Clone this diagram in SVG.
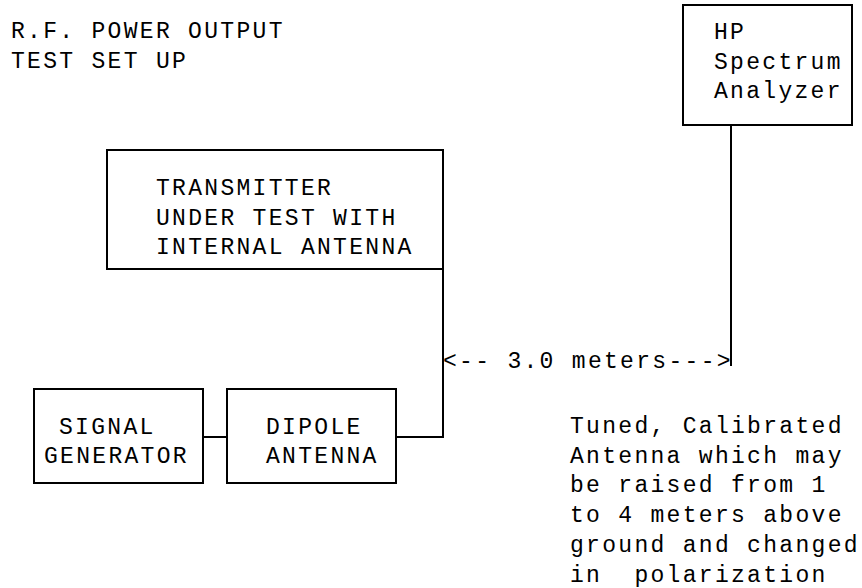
<svg xmlns="http://www.w3.org/2000/svg" width="862" height="588" viewBox="0 0 862 588">
<style>
text{font-family:"Liberation Mono","Courier New",monospace;font-size:23px;letter-spacing:2.3px;fill:#000}
.box{fill:#fff;stroke:#000;stroke-width:2}
.wire{fill:none;stroke:#000;stroke-width:2}
</style>
<rect width="862" height="588" fill="#fff"/>
<g id="title">
<text x="11" y="38">R.F. POWER OUTPUT</text>
<text x="11" y="68">TEST SET UP</text>
</g>
<g id="connectors">
<polyline class="wire" points="443,269 443,437 396,437"/>
<line class="wire" x1="203" y1="437" x2="227" y2="437"/>
<line class="wire" x1="731" y1="125" x2="731" y2="366"/>
</g>
<g id="hp-analyzer">
<rect class="box" x="683" y="5" width="169" height="120"/>
<text x="714" y="39">HP</text>
<text x="714" y="69">Spectrum</text>
<text x="714" y="98">Analyzer</text>
</g>
<g id="transmitter">
<rect class="box" x="107" y="150" width="336" height="119"/>
<text x="156" y="195">TRANSMITTER</text>
<text x="156" y="225">UNDER TEST WITH</text>
<text x="156" y="254">INTERNAL ANTENNA</text>
</g>
<g id="signal-generator">
<rect class="box" x="34" y="389" width="169" height="94"/>
<text x="59" y="434">SIGNAL</text>
<text x="44" y="463">GENERATOR</text>
</g>
<g id="dipole-antenna">
<rect class="box" x="227" y="389" width="169" height="94"/>
<text x="266" y="434">DIPOLE</text>
<text x="266" y="463">ANTENNA</text>
</g>
<g id="distance">
<text x="443" y="368">&lt;-- 3.0 meters---&gt;</text>
</g>
<g id="note">
<text x="570" y="433">Tuned, Calibrated</text>
<text x="570" y="463">Antenna which may</text>
<text x="570" y="492">be raised from 1</text>
<text x="570" y="522">to 4 meters above</text>
<text x="570" y="552">ground and changed</text>
<text x="570" y="582" xml:space="preserve">in  polarization</text>
</g>
</svg>
